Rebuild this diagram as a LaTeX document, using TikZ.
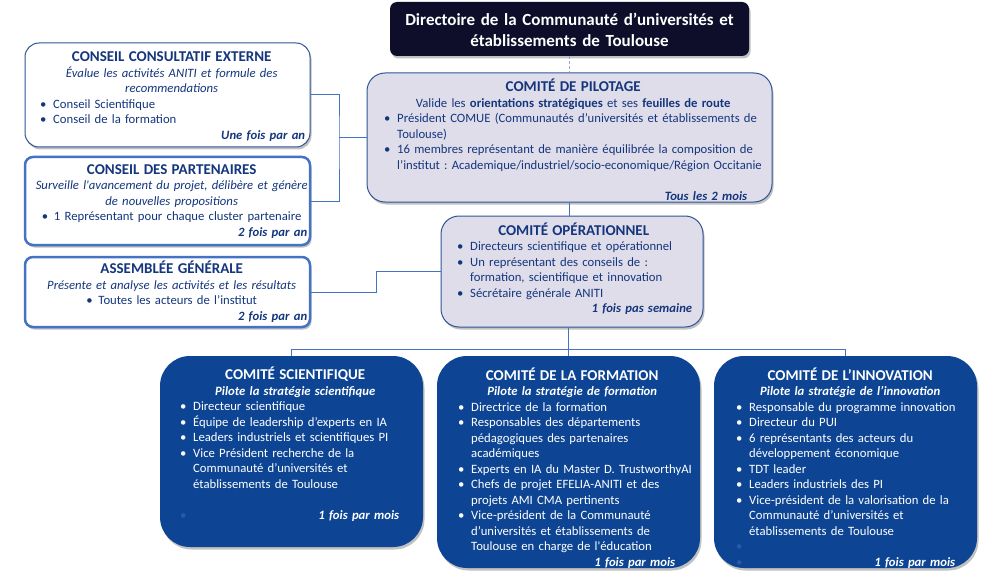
\documentclass[tikz,border=0pt]{standalone}
\usepackage{fontspec}
\setmainfont{Carlito}
\usetikzlibrary{shadows}

\definecolor{navy}{RGB}{20,54,125}
\definecolor{bordblue}{RGB}{47,85,151}
\definecolor{linkblue}{RGB}{68,114,196}
\definecolor{lav}{RGB}{224,221,234}
\definecolor{darkbox}{RGB}{13,69,148}
\definecolor{nightbox}{RGB}{14,14,42}
\definecolor{faintblue}{RGB}{45,90,165}
\definecolor{dashblue}{RGB}{142,169,219}

\newlength\bulx
\newlength\frqx
% lines of the boxes
\newcommand\ttl[1]{{\centering\fontsize{15}{15.5}\selectfont\bfseries #1\par}}
\newcommand\sbt[1]{{\centering\itshape #1\par}}
\newcommand\ctr[1]{{\centering #1\par}}
\newcommand\cbt[1]{{\centering\leavevmode\hbox to 12pt{\textbullet\hss}#1\par}}
\newcommand\itm[1]{{\raggedright\leftskip=\bulx\hangindent=13pt\hangafter=1\noindent\hbox to 13pt{\textbullet\hss}#1\par}}
\newcommand\frq[1]{{\raggedleft\bfseries\itshape #1\kern\frqx\par}}
\newcommand\fbul[1]{{\leftskip=\bulx\noindent\hbox to 13pt{\color{faintblue}\textbullet\hss}\hfill\textbf{\textit{#1}}\kern\frqx\par}}
\newcommand\gap{\par\vskip 15.5pt}

\tikzset{
  boxshadow/.style={drop shadow={shadow xshift=1.5pt,shadow yshift=-2.5pt,opacity=.35,fill=black!70}},
  dirbox/.style={fill=nightbox, rounded corners=7pt, inner sep=0pt, boxshadow},
  lbox/.style={draw=bordblue, line width=1pt, fill=white, rounded corners=14pt, inner sep=0pt, boxshadow},
  pbox/.style={draw=linkblue, line width=2.5pt, fill=white, rounded corners=8pt, inner sep=0pt, boxshadow},
  gbox/.style={draw=bordblue, line width=1pt, fill=lav, rounded corners=18pt, inner sep=0pt, boxshadow},
  dbox/.style={fill=darkbox, rounded corners=30pt, inner sep=0pt, boxshadow},
  link/.style={draw=linkblue, line width=1pt},
  txt/.style n args={3}{anchor=base west, inner sep=0pt, text width=#1,
    font=\fontsize{12.7}{15.5}\selectfont,
    execute at begin node={\frenchspacing\setlength\bulx{#2}\setlength\frqx{#3}}},
}

\begin{document}
\begin{tikzpicture}[x=1pt,y=-1pt]
\useasboundingbox (0,0) rectangle (996,575);

% boxes
\node[dirbox, minimum width=359pt, minimum height=54pt] (dir) at (569.5,29) {};
\node[lbox, minimum width=285pt, minimum height=104pt] (cce) at (167.5,95) {};
\node[pbox, minimum width=285pt, minimum height=88pt] (cdp) at (167.5,201) {};
\node[pbox, minimum width=285pt, minimum height=70pt] (ag) at (167.5,292) {};
\node[gbox, minimum width=405pt, minimum height=129pt] (pil) at (569.5,137.5) {};
\node[gbox, minimum width=262pt, minimum height=111pt] (ope) at (572,271.5) {};
\node[dbox, minimum width=263pt, minimum height=191pt] (csc) at (291.5,451.5) {};
\node[dbox, minimum width=263pt, minimum height=212pt] (cfo) at (568.5,462) {};
\node[dbox, minimum width=263pt, minimum height=212pt] (cin) at (845.5,462) {};

% connectors
\coordinate (brk) at (339,137.5);
\coordinate (agk) at (376,271.5);
\coordinate (bus) at (568.5,349);
\draw[draw=dashblue, line width=1pt, dash pattern=on 3pt off 2pt] (dir) -- (pil);
\draw[link] (pil.south) -- (pil.south |- ope.north);
\draw[link] (cce.east) -| (brk) |- (cdp.east);
\draw[link] (brk) -- (pil.west);
\draw[link] (ag.east) -| (agk) -- (ope.west);
\draw[link] (bus |- ope.south) -- (bus);
\draw[link] (csc.north) |- (bus);
\draw[link] (cin.north) |- (bus);
\draw[link] (bus) -- (bus |- cfo.north);

% texts
\node[anchor=base, inner sep=0pt, text width=350pt, align=center, text=white,
  font=\fontsize{17}{20.7}\selectfont\bfseries] (dir-t) at (569.5,26)
  {Directoire de la Communauté d’universités et\\établissements de Toulouse};

\node[txt={279pt}{8pt}{6pt}, text=navy] (cce-t) at (32,62) {%
  \ttl{CONSEIL CONSULTATIF EXTERNE}
  \sbt{Évalue les activités ANITI et formule des\\recommendations}
  \itm{Conseil Scientifique}
  \itm{Conseil de la formation}
  \frq{Une fois par an}};

\node[txt={287pt}{0pt}{8pt}, text=navy] (cdp-t) at (28,174.5) {%
  \ttl{CONSEIL DES PARTENAIRES}
  \sbt{Surveille l\textquotesingle avancement du projet, délibère et génère\\de nouvelles propositions}
  \cbt{1 Représentant pour chaque cluster partenaire}
  \frq{2 fois par an}};

\node[txt={287pt}{0pt}{8pt}, text=navy] (ag-t) at (28,273.5) {%
  \ttl{ASSEMBLÉE GÉNÉRALE}
  \sbt{Présente et analyse les activités et les résultats}
  \cbt{Toutes les acteurs de l’institut}
  \frq{2 fois par an}};

\node[txt={394pt}{8pt}{23pt}, text=navy] (pil-t) at (376,92) {%
  \ttl{COMITÉ DE PILOTAGE}
  \ctr{Valide les \textbf{orientations stratégiques} et ses \textbf{feuilles de route}}
  \itm{Président COMUE (Communautés d’universités et établissements de\newline Toulouse)}
  \itm{16 membres représentant de manière équilibrée la composition de\newline l’institut : Academique/industriel/socio-economique/Région Occitanie}
  \gap
  \frq{Tous les 2 mois}};

\node[txt={247pt}{7pt}{5pt}, text=navy] (ope-t) at (450,235) {%
  \ttl{COMITÉ OPÉRATIONNEL}
  \itm{Directeurs scientifique et opérationnel}
  \itm{Un représentant des conseils de :\newline formation, scientifique et innovation}
  \itm{Sécrétaire générale ANITI}
  \frq{1 fois pas semaine}};

\node[txt={246pt}{8pt}{19pt}, text=white] (csc-t) at (172,379.5) {%
  \ttl{COMITÉ SCIENTIFIQUE}
  \sbt{\bfseries Pilote la stratégie scientifique}
  \itm{Directeur scientifique}
  \itm{Équipe de leadership d’experts en IA}
  \itm{Leaders industriels et scientifiques PI}
  \itm{Vice Président recherche de la\newline Communauté d’universités et\newline établissements de Toulouse}
  \gap
  \fbul{1 fois par mois}};

\node[txt={250pt}{11pt}{22pt}, text=white] (cfo-t) at (447,380) {%
  \ttl{COMITÉ DE LA FORMATION}
  \sbt{\bfseries Pilote la stratégie de formation}
  \itm{Directrice de la formation}
  \itm{Responsables des départements\newline pédagogiques des partenaires\newline académiques}
  \itm{Experts en IA du Master D. TrustworthyAI}
  \itm{Chefs de projet EFELIA-ANITI et des\newline projets AMI CMA pertinents}
  \itm{Vice-président de la Communauté\newline d’universités et établissements de\newline Toulouse en charge de l\textquotesingle éducation}
  \frq{1 fois par mois}};

\node[txt={240pt}{6pt}{15pt}, text=white] (cin-t) at (730,380) {%
  \ttl{COMITÉ DE L’INNOVATION}
  \sbt{\bfseries Pilote la stratégie de l’innovation}
  \itm{Responsable du programme innovation}
  \itm{Directeur du PUI}
  \itm{6 représentants des acteurs du\newline développement économique}
  \itm{TDT leader}
  \itm{Leaders industriels des PI}
  \itm{Vice-président de la valorisation de la\newline Communauté d’universités et\newline établissements de Toulouse}
  \fbul{}
  \fbul{1 fois par mois}};
\end{tikzpicture}
\end{document}
